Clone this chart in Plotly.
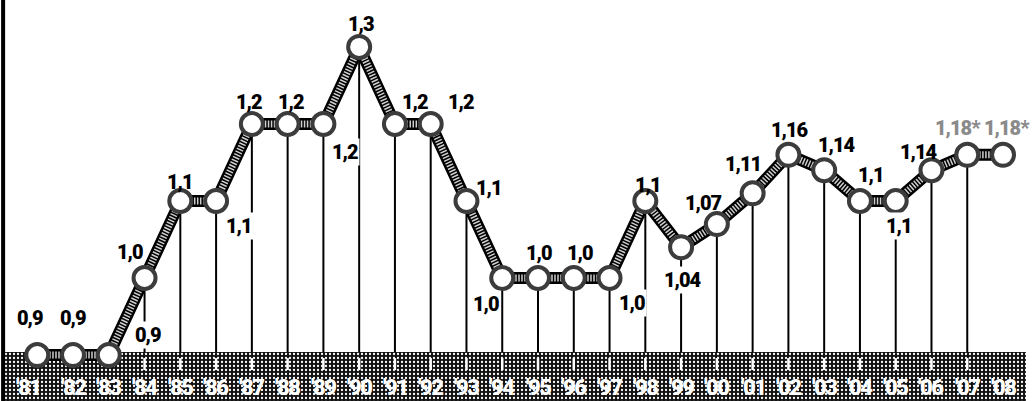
import plotly.graph_objects as go

# ---------------- data ----------------
years = ["'81", "'82", "'83", "'84", "'85", "'86", "'87", "'88", "'89", "'90",
         "'91", "'92", "'93", "'94", "'95", "'96", "'97", "'98", "'99", "'00",
         "'01", "'02", "'03", "'04", "'05", "'06", "'07", "'08"]
values = [0.90, 0.90, 0.90, 1.00, 1.10, 1.10, 1.20, 1.20, 1.20, 1.30,
          1.20, 1.20, 1.10, 1.00, 1.00, 1.00, 1.00, 1.10, 1.04, 1.07,
          1.11, 1.16, 1.14, 1.10, 1.10, 1.14, 1.16, 1.16]
value_labels = ["0,9", "0,9", "0,9", "1,0", "1,1", "1,1", "1,2", "1,2", "1,2", "1,3",
                "1,2", "1,2", "1,1", "1,0", "1,0", "1,0", "1,0", "1,1", "1,04", "1,07",
                "1,11", "1,16", "1,14", "1,1", "1,1", "1,14", "1,18*", "1,18*"]
estimated = [False] * 26 + [True, True]

# ---------------- styling / placement ----------------
# label offsets in pixels relative to each point (xshift, yshift)
label_offsets = [(-7, 37), (0, 37), (39, 20), (-15, 26), (0, 19), (23, -25), (-3, 22),
                 (3, 22), (22, -28), (2, 23), (20, 22), (30, 22), (23, 13), (-16, -26),
                 (1, 25), (6, 25), (22, -25), (3, 16), (1, -33), (-13, 21), (-10, 29),
                 (2, 25), (12, 25), (11, 26), (3, -25), (-13, 18), (-9, 27), (4, 27)]
has_stem = [False, False, False] + [True] * 24 + [False]

Y_MIN, Y_MAX = 0.8403, 1.3610
X_MIN, X_MAX = -1.041, 27.894
BAND_TOP = 0.9039
BAND_X0, BAND_X1 = -0.90, 27.64
TICK_TOP, TICK_BOT = 0.896, 0.8805
YEAR_Y = 0.8584

FONT = "Roboto, Liberation Sans Narrow, Arial, sans-serif"

xs = list(range(len(years)))

fig = go.Figure()

# dark dotted band at the bottom
fig.add_trace(go.Scatter(
    x=[BAND_X0, BAND_X1, BAND_X1, BAND_X0, BAND_X0],
    y=[Y_MIN - 0.01, Y_MIN - 0.01, BAND_TOP, BAND_TOP, Y_MIN - 0.01],
    mode="none", fill="toself", fillcolor="#111111",
    fillpattern=dict(shape=".", bgcolor="#111111", fgcolor="#ffffff",
                     size=4, solidity=0.25, fillmode="replace"),
    hoverinfo="skip", showlegend=False))

# stems
sx, sy, tx, ty = [], [], [], []
for i, v in enumerate(values):
    if has_stem[i]:
        sx += [xs[i], xs[i], None]
        sy += [v, BAND_TOP, None]
        tx += [xs[i], xs[i], None]
        ty += [TICK_TOP, TICK_BOT, None]
fig.add_trace(go.Scatter(x=sx, y=sy, mode="lines",
                         line=dict(color="#000000", width=2),
                         hoverinfo="skip", showlegend=False))
fig.add_trace(go.Scatter(x=tx, y=ty, mode="lines",
                         line=dict(color="#ffffff", width=2.5),
                         hoverinfo="skip", showlegend=False))

# hatched thick line
fig.add_trace(go.Scatter(x=xs, y=values, mode="lines",
                         line=dict(color="#000000", width=12),
                         hoverinfo="skip", showlegend=False))
fig.add_trace(go.Scatter(x=xs, y=values, mode="lines",
                         line=dict(color="#cfcfcf", width=7, dash="1.5px,1.5px"),
                         hoverinfo="skip", showlegend=False))
# circles
fig.add_trace(go.Scatter(x=xs, y=values, mode="markers",
                         marker=dict(size=22, color="#ffffff",
                                     line=dict(color="#3c3c3c", width=4)),
                         hoverinfo="skip", showlegend=False))

annotations = []
for i, (lab, v) in enumerate(zip(value_labels, values)):
    dx, dy = label_offsets[i]
    annotations.append(dict(
        x=xs[i], y=v, text=f'<span style="letter-spacing:-1px">{lab}</span>',
        showarrow=False,
        xanchor="center", yanchor="middle", xshift=dx, yshift=dy,
        bgcolor="#ffffff" if dy < 0 or i == 2 else None,
        font=dict(family=FONT, size=20, weight=900,
                  color="#8a8a8a" if estimated[i] else "#000000")))

year_shift = [-9] + [0] * (len(years) - 1)
for i, y in enumerate(years):
    annotations.append(dict(
        x=xs[i], y=YEAR_Y, text=f'<span style="letter-spacing:-1.5px">{y}</span>',
        showarrow=False,
        xanchor="center", yanchor="middle", xshift=year_shift[i],
        font=dict(family=FONT, size=22, weight=900, color="#ffffff")))

fig.update_layout(
    width=1035, height=401,
    margin=dict(l=0, r=0, t=0, b=0),
    paper_bgcolor="#ffffff", plot_bgcolor="#ffffff",
    showlegend=False,
    xaxis=dict(range=[X_MIN, X_MAX], visible=False, fixedrange=True),
    yaxis=dict(range=[Y_MIN, Y_MAX], visible=False, fixedrange=True),
    annotations=annotations,
    shapes=[dict(type="line", xref="paper", yref="paper",
                 x0=0.003, x1=0.003, y0=0, y1=1,
                 line=dict(color="#000000", width=4))],
)

fig.write_html("out.html")
